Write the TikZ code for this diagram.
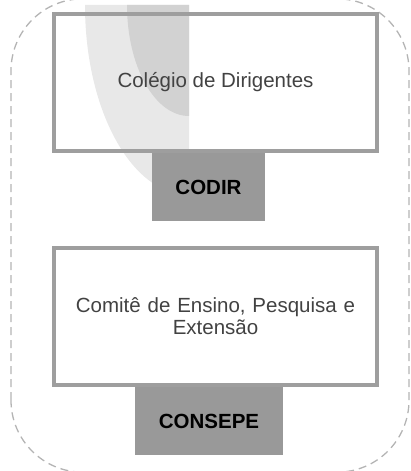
\documentclass[tikz,border=0pt]{standalone}
\usepackage{fontspec}
\setmainfont{Liberation Sans}
\usetikzlibrary{positioning}
\definecolor{boxgray}{HTML}{9E9E9E}
\definecolor{tagfill}{HTML}{999999}
\definecolor{dashgray}{HTML}{B4B4B4}
\definecolor{arclight}{HTML}{E8E8E8}
\definecolor{arcdark}{HTML}{D2D2D2}
\definecolor{txtgray}{HTML}{424242}
\tikzset{x=1pt, y=1pt, % one unit is one pixel of the reference
council/.style={draw=boxgray, line width=3.3pt, % the big outlined boxes
  minimum width=323pt, minimum height=137pt, inner sep=0pt,
  text=txtgray, align=center, font=\fontsize{20.5}{22}\selectfont},
acronym/.style={fill=tagfill, minimum height=68.5pt, inner sep=0pt, % grey tags under the boxes
  font=\bfseries\fontsize{20.5}{22}\selectfont},
frame/.style={draw=dashgray, line width=1.3pt, dash pattern=on 8pt off 5pt, rounded corners=72pt},
}

\begin{document}
\begin{tikzpicture}
  \useasboundingbox (0,0) rectangle (410,471);
  \draw[frame] (11,-1.2) rectangle (409,472.2);

  % shaded quarter ellipses behind the first box
  \fill[arclight] (85,466) -- (189,466) -- (189,276) .. controls (131.6,276) and (85,361) .. cycle;
  \fill[arcdark] (127,466) -- (189,466) -- (189,355) .. controls (154.8,355) and (127,404.7) .. cycle;

  \node[council] (colegio) at (215.5,388.5) {\raisebox{-3pt}{Colégio de Dirigentes}};
  \node[acronym, minimum width=113pt, below=0pt of colegio, xshift=-7pt] (codir) {CODIR};

  \node[council, text width=300pt] (comite) at (215.5,154.5) {Comitê de Ensino, Pesquisa e\\Extensão};
  \node[acronym, minimum width=148pt, below=0pt of comite, xshift=-6.5pt] (consepe) {CONSEPE};

\end{tikzpicture}
\end{document}
